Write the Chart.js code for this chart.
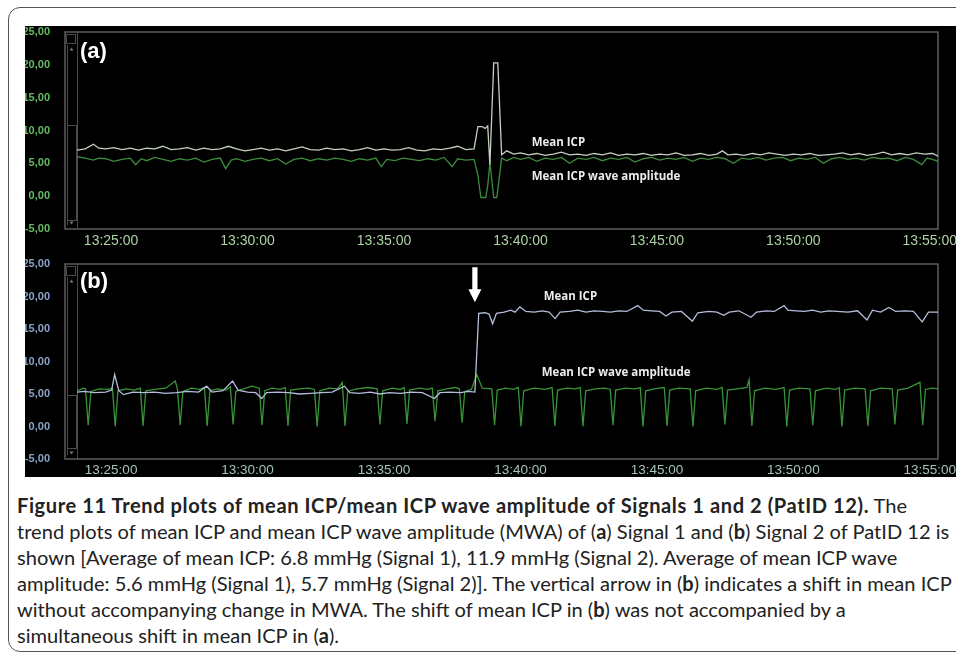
<!DOCTYPE html>
<html><head><meta charset="utf-8">
<script src="https://cdn.jsdelivr.net/npm/chart.js@4.4.0/dist/chart.umd.min.js"></script>
<style>
html,body{margin:0;padding:0;background:#fff;width:956px;height:655px;overflow:hidden;position:relative;}
#box{position:absolute;left:8px;top:7px;width:1000px;height:643px;border:1.5px solid #555;border-radius:12px;}
#blk{position:absolute;left:25px;top:26px;width:940px;height:451px;background:#000;}
canvas{position:absolute;}
.cap{position:absolute;left:17px;white-space:nowrap;font-family:Lato,"Open Sans",sans-serif;color:#222;line-height:26px;height:26px;}
.cap b{font-weight:700;}
</style></head><body>
<div id="box"></div>
<div id="blk"></div>
<canvas id="ca" width="945" height="224" style="left:25px;top:26px;"></canvas>
<canvas id="cb" width="945" height="227" style="left:25px;top:250px;"></canvas>
<div class="cap" id="titleline" style="top:492px"><b id="titlebold">Figure 11 Trend plots of mean ICP/mean ICP wave amplitude of Signals 1 and 2 (PatID 12).</b> The</div>
<div class="cap" id="refline" style="top:518px">trend plots of mean ICP and mean ICP wave amplitude (MWA) of (<b>a</b>) Signal 1 and (<b>b</b>) Signal 2 of PatID 12 is</div>
<div class="cap" style="top:544px">shown [Average of mean ICP: 6.8 mmHg (Signal 1), 11.9 mmHg (Signal 2). Average of mean ICP wave</div>
<div class="cap" style="top:570px">amplitude: 5.6 mmHg (Signal 1), 5.7 mmHg (Signal 2)]. The vertical arrow in (<b>b</b>) indicates a shift in mean ICP</div>
<div class="cap" style="top:596px">without accompanying change in MWA. The shift of mean ICP in (<b>b</b>) was not accompanied by a</div>
<div class="cap" style="top:622px">simultaneous shift in mean ICP in (<b>a</b>).</div>
<script>
// ---- tick labels (minutes after 13:25:00) ----
const xTickVals = [0, 5, 10, 15, 20, 25, 30];
const xTickLabels = ['13:25:00','13:30:00','13:35:00','13:40:00','13:45:00','13:50:00','13:55:00'];
const yTickVals = [-5, 0, 5, 10, 15, 20, 25];
const yTickLabels = ['-5,00','0,00','5,00','10,00','15,00','20,00','25,00'];

// ---- panel (a): Signal 1, [minute, mmHg] ----
const aMeanICP = [[-1.25,7.0],[-0.95,7.2],[-0.65,7.9],[-0.45,7.3],[-0.2,7.2],[0.1,7.4],[0.4,7.1],[0.7,7.3],[1.0,7.0],[1.3,7.3],[1.6,7.2],[1.9,7.6],[2.2,7.1],[2.5,7.2],[2.8,7.4],[3.1,7.0],[3.4,7.3],[3.7,7.1],[4.0,7.2],[4.3,7.6],[4.6,7.2],[4.9,6.9],[5.2,7.1],[5.5,7.3],[5.8,7.0],[6.1,7.2],[6.4,6.9],[6.7,7.2],[7.0,7.5],[7.3,7.1],[7.6,7.0],[7.9,7.3],[8.2,7.1],[8.5,7.2],[8.8,6.9],[9.1,7.1],[9.4,7.4],[9.7,7.0],[10.0,7.2],[10.3,7.0],[10.6,7.1],[10.9,7.4],[11.2,7.0],[11.5,6.9],[11.8,7.2],[12.1,7.1],[12.4,7.3],[12.7,7.6],[13.0,7.1],[13.3,7.2],[13.44,10.6],[13.6,10.6],[13.7,10.3],[13.8,10.7],[13.88,4.8],[14.02,20.3],[14.17,20.3],[14.31,6.3],[14.5,6.9],[14.75,6.4],[15.0,6.6],[15.3,6.3],[15.6,6.5],[15.9,6.2],[16.2,6.4],[16.5,6.7],[16.8,6.3],[17.1,6.4],[17.4,6.2],[17.7,6.5],[18.0,6.3],[18.3,6.6],[18.6,6.2],[18.9,6.4],[19.2,6.3],[19.5,6.5],[19.8,6.2],[20.1,6.4],[20.4,6.3],[20.7,6.6],[21.0,6.2],[21.3,6.3],[21.6,6.5],[21.9,6.2],[22.2,6.4],[22.4,6.9],[22.6,6.3],[22.9,6.4],[23.2,6.2],[23.5,6.5],[23.8,6.3],[24.1,6.6],[24.4,6.4],[24.7,6.2],[25.0,6.4],[25.3,6.3],[25.6,6.5],[25.9,6.2],[26.2,6.3],[26.5,6.4],[26.8,6.6],[27.1,6.3],[27.4,6.5],[27.7,6.2],[28.0,6.4],[28.3,6.7],[28.6,6.3],[28.9,6.5],[29.2,6.3],[29.5,6.6],[29.8,6.4],[30.1,6.5],[30.3,6.1]];
const aMWA = [[-1.25,6.0],[-0.95,5.8],[-0.65,5.5],[-0.45,5.8],[-0.2,5.7],[0.1,5.3],[0.4,5.6],[0.7,5.8],[0.9,4.8],[1.1,5.7],[1.3,5.4],[1.6,5.9],[1.9,5.6],[2.2,5.3],[2.5,5.7],[2.8,5.5],[3.1,5.8],[3.4,5.2],[3.7,5.6],[4.0,5.8],[4.2,4.2],[4.4,5.5],[4.6,5.7],[4.9,5.3],[5.2,5.6],[5.5,5.8],[5.8,5.4],[6.1,5.7],[6.4,4.9],[6.7,5.6],[7.0,5.8],[7.3,5.4],[7.6,5.7],[7.9,5.5],[8.2,5.8],[8.5,5.6],[8.8,5.3],[9.1,5.7],[9.4,5.5],[9.7,5.8],[9.9,4.5],[10.1,5.6],[10.4,5.4],[10.7,5.8],[11.0,5.6],[11.3,5.4],[11.6,5.7],[11.9,5.5],[12.2,5.9],[12.5,4.5],[12.7,5.7],[13.0,5.5],[13.3,5.6],[13.44,3.2],[13.55,-0.2],[13.73,-0.2],[13.8,1.6],[13.88,5.1],[14.02,-0.2],[14.13,-0.2],[14.17,1.0],[14.31,5.8],[14.5,5.4],[14.75,5.9],[15.0,5.6],[15.3,5.9],[15.6,5.3],[15.9,5.8],[16.2,5.6],[16.5,5.9],[16.8,5.0],[17.1,5.8],[17.4,5.6],[17.7,5.9],[18.0,5.4],[18.3,5.8],[18.6,5.6],[18.9,5.9],[19.2,5.2],[19.5,5.7],[19.8,5.9],[20.1,5.5],[20.4,5.8],[20.7,5.6],[21.0,5.9],[21.3,5.3],[21.6,5.8],[21.9,5.6],[22.2,5.9],[22.5,5.7],[22.8,5.0],[23.1,5.8],[23.4,5.6],[23.7,5.9],[24.0,5.5],[24.3,5.8],[24.6,5.9],[24.9,5.4],[25.2,5.8],[25.5,5.6],[25.8,5.9],[26.1,5.0],[26.4,5.7],[26.7,5.9],[27.0,5.6],[27.3,5.8],[27.6,5.5],[27.9,5.9],[28.2,5.7],[28.5,5.8],[28.8,5.4],[29.1,5.9],[29.4,5.6],[29.7,4.8],[29.9,5.8],[30.1,5.6],[30.3,5.3]];

// ---- panel (b): Signal 2, [minute, mmHg] ----
const bMeanICP = [[-1.25,5.3],[-1.0,5.4],[-0.6,5.2],[-0.2,5.3],[0.02,5.6],[0.13,8.0],[0.28,5.5],[0.45,4.9],[0.8,5.3],[1.2,5.2],[1.6,5.3],[2.0,5.1],[2.4,5.2],[2.8,5.4],[3.2,5.3],[3.5,6.2],[3.7,5.3],[4.1,5.5],[4.45,7.0],[4.65,5.6],[5.0,5.3],[5.3,5.2],[5.52,4.3],[5.7,5.2],[6.1,5.3],[6.5,5.2],[6.9,5.0],[7.3,5.1],[7.7,5.2],[8.1,5.3],[8.55,6.2],[8.75,5.2],[9.1,5.1],[9.5,5.3],[9.85,5.0],[10.2,5.2],[10.6,5.1],[11.0,5.3],[11.4,5.2],[11.85,4.3],[12.05,5.2],[12.4,5.3],[12.8,5.2],[13.1,5.4],[13.33,5.3],[13.47,17.4],[13.7,17.5],[13.85,17.3],[13.98,15.8],[14.12,17.4],[14.4,17.6],[14.65,17.9],[14.8,17.6],[14.98,18.4],[15.2,17.7],[15.5,17.6],[15.8,17.8],[16.05,17.6],[16.27,16.6],[16.45,17.6],[16.8,17.7],[17.1,17.9],[17.4,17.6],[17.7,17.8],[18.0,17.7],[18.3,17.6],[18.6,17.8],[18.9,17.7],[19.3,18.6],[19.5,17.9],[19.8,17.8],[20.1,17.7],[20.33,17.0],[20.55,17.6],[20.9,17.7],[21.3,16.2],[21.5,17.5],[21.9,17.7],[22.2,17.6],[22.45,17.1],[22.65,17.6],[23.0,17.8],[23.45,16.8],[23.65,17.6],[24.0,17.8],[24.3,17.7],[24.66,18.6],[24.8,17.9],[25.1,17.8],[25.4,17.7],[25.7,17.9],[26.0,17.6],[26.3,17.8],[26.6,17.7],[27.0,17.6],[27.35,17.8],[27.7,16.4],[27.9,17.9],[28.2,17.6],[28.5,18.3],[28.75,17.7],[29.1,17.8],[29.4,17.7],[29.72,16.1],[29.95,17.6],[30.3,17.6]];
const bMWA = [[-1.25,5.5],[-1.0,5.9],[-0.94,5.8],[-0.84,0.2],[-0.74,5.4],[-0.45,5.8],[-0.1,5.7],[0.05,5.9],[0.15,0.0],[0.25,5.5],[0.55,5.8],[0.85,5.6],[1.07,5.9],[1.17,0.1],[1.27,5.5],[1.6,5.7],[2.0,5.9],[2.35,7.0],[2.43,5.8],[2.53,0.2],[2.63,5.4],[2.95,5.9],[3.25,5.7],[3.42,6.0],[3.52,0.1],[3.62,5.5],[3.9,5.8],[4.2,5.6],[4.37,6.1],[4.47,0.3],[4.57,5.4],[4.85,5.8],[5.15,6.2],[5.43,5.9],[5.53,0.2],[5.63,5.5],[5.9,5.9],[6.2,5.7],[6.38,6.0],[6.48,0.1],[6.58,5.6],[6.9,5.8],[7.25,5.9],[7.45,5.7],[7.55,0.0],[7.65,5.5],[8.0,5.9],[8.3,5.8],[8.47,6.8],[8.57,0.1],[8.67,5.4],[9.0,5.8],[9.4,6.0],[9.75,5.8],[9.85,0.3],[9.95,5.5],[10.3,5.9],[10.6,5.7],[10.74,6.0],[10.84,0.4],[10.94,5.6],[11.3,5.9],[11.6,5.7],[11.77,5.9],[11.87,0.8],[11.97,5.5],[12.3,5.8],[12.6,6.0],[12.76,5.8],[12.86,0.6],[12.96,5.4],[13.2,5.7],[13.4,8.0],[13.6,5.9],[13.95,5.8],[14.05,0.2],[14.15,5.6],[14.45,5.9],[14.75,5.7],[14.92,6.0],[15.02,0.0],[15.12,5.5],[15.5,5.9],[15.9,5.7],[16.16,6.0],[16.26,0.1],[16.36,5.6],[16.7,5.9],[17.0,5.8],[17.19,6.0],[17.29,0.0],[17.39,5.5],[17.75,5.8],[18.1,5.9],[18.29,5.7],[18.39,0.2],[18.49,5.6],[18.85,5.9],[19.2,5.8],[19.39,6.0],[19.49,0.0],[19.59,5.5],[19.9,5.8],[20.27,6.0],[20.37,0.1],[20.47,5.6],[20.8,5.9],[21.22,5.8],[21.32,0.0],[21.42,5.5],[21.8,5.9],[22.2,5.7],[22.39,6.0],[22.49,0.3],[22.59,5.6],[22.95,5.8],[23.3,6.0],[23.38,7.2],[23.48,0.1],[23.58,5.5],[23.95,5.9],[24.35,5.7],[24.66,6.0],[24.76,0.0],[24.86,5.6],[25.2,5.9],[25.61,5.8],[25.71,0.2],[25.81,5.5],[26.2,5.9],[26.55,5.7],[26.68,6.0],[26.78,0.0],[26.88,5.6],[27.25,5.9],[27.63,5.8],[27.73,0.1],[27.83,5.5],[28.2,5.9],[28.62,5.8],[28.72,0.3],[28.82,5.6],[29.2,5.9],[29.64,6.8],[29.74,0.2],[29.84,5.7],[30.1,5.9],[30.3,5.8]];

// ---- annotation anchors (data coordinates) ----
const aNotes = [{t:15.41, v:8.15, text:'Mean ICP'},{t:15.41, v:2.95, text:'Mean ICP wave amplitude'}];
const bNotes = [{t:15.85, v:19.9, text:'Mean ICP'},{t:15.78, v:8.2, text:'Mean ICP wave amplitude'}];
const bArrow = {t:13.33, from:24.5, to:19.1};

const toXY = arr => arr.map(p => ({x:p[0], y:p[1]}));

const decor = {
  id:'decor',
  beforeDatasetsDraw(chart, args, o){
    const {ctx, chartArea:a} = chart;
    ctx.save();
    ctx.strokeStyle = '#5c5c5c'; ctx.lineWidth = 1.5;
    ctx.strokeRect(a.left-12, a.top, a.right-a.left+12, a.bottom-a.top);
    ctx.lineWidth = 1; ctx.strokeStyle = '#4a4a4a';
    ctx.beginPath(); ctx.moveTo(a.left+0.5, a.top); ctx.lineTo(a.left+0.5, a.bottom); ctx.stroke();
    ctx.beginPath(); ctx.moveTo(a.left-9.5, a.top+13); ctx.lineTo(a.left-9.5, a.bottom-4); ctx.stroke();
    ctx.strokeRect(a.left-10.5, a.top+2.5, 9, 9);
    ctx.strokeRect(a.left-9.5, a.top+o.thumbTop+0.5, 9, o.thumbH);
    ctx.fillStyle = '#777';
    let cx = a.left-5.5, cy = a.top+17;
    ctx.beginPath(); ctx.moveTo(cx-2, cy+1.5); ctx.lineTo(cx+2, cy+1.5); ctx.lineTo(cx, cy-1.5); ctx.fill();
    cy = a.bottom-6;
    ctx.beginPath(); ctx.moveTo(cx-2, cy-1.5); ctx.lineTo(cx+2, cy-1.5); ctx.lineTo(cx, cy+1.5); ctx.fill();
    ctx.restore();
  },
  afterDatasetsDraw(chart, args, o){
    const {ctx, chartArea:a, scales:{x, y}} = chart;
    ctx.save();
    ctx.fillStyle = '#fff';
    ctx.font = 'bold 22px "Liberation Sans", Arial, sans-serif';
    ctx.textBaseline = 'middle'; ctx.textAlign = 'left';
    ctx.fillText(o.label, a.left+3, a.top+o.labelDy);
    ctx.fillStyle = '#ececec';
    ctx.font = 'bold 11.5px "Open Sans", sans-serif';
    o.notes.forEach(n => ctx.fillText(n.text, x.getPixelForValue(n.t), y.getPixelForValue(n.v)));
    if (o.arrow) {
      const ax = x.getPixelForValue(o.arrow.t), y1 = y.getPixelForValue(o.arrow.from), y2 = y.getPixelForValue(o.arrow.to);
      const hl = 13, hw = 6.5, sw = 2.6;
      ctx.fillStyle = '#fff';
      ctx.beginPath();
      ctx.moveTo(ax-sw, y1); ctx.lineTo(ax+sw, y1); ctx.lineTo(ax+sw, y2-hl); ctx.lineTo(ax+hw, y2-hl);
      ctx.lineTo(ax, y2); ctx.lineTo(ax-hw, y2-hl); ctx.lineTo(ax-sw, y2-hl); ctx.closePath(); ctx.fill();
    }
    ctx.restore();
  }
};

function makeChart(id, icp, mwa, cfg){
  return new Chart(document.getElementById(id), {
    type:'line',
    data:{datasets:[
      {data:toXY(icp), borderColor:cfg.icpColor, borderWidth:1.3, pointRadius:0, tension:0},
      {data:toXY(mwa), borderColor:cfg.mwaColor, borderWidth:1.3, pointRadius:0, tension:0}
    ]},
    plugins:[decor],
    options:{
      responsive:false, animation:false, devicePixelRatio:1,
      layout:{padding:{left:0, right:32, top:cfg.padTop, bottom:0}},
      plugins:{legend:{display:false}, tooltip:{enabled:false}, decor:cfg.decor},
      scales:{
        x:{type:'linear', min:-1.25, max:30.3,
           afterBuildTicks:s => { s.ticks = xTickVals.map(v => ({value:v})); },
           afterFit:s => { s.height = cfg.xH; },
           grid:{display:false, drawTicks:false}, border:{display:false},
           ticks:{autoSkip:false, maxRotation:0, padding:cfg.xPad, color:cfg.xColor,
                  font:{family:'"Liberation Sans", Arial, sans-serif', size:cfg.xSize},
                  callback:v => xTickLabels[xTickVals.indexOf(v)]}},
        y:{min:-5, max:25,
           afterBuildTicks:s => { s.ticks = yTickVals.map(v => ({value:v})); },
           afterFit:s => { s.width = 52; s.paddingTop = 0; s.paddingBottom = 0; },
           grid:{display:false, drawTicks:true, tickLength:27}, border:{display:false},
           ticks:{padding:0, color:cfg.yColor,
                  font:{family:'"Liberation Sans", Arial, sans-serif', size:11, weight:'bold'},
                  callback:v => yTickLabels[yTickVals.indexOf(v)]}}
      }
    }
  });
}

makeChart('ca', aMeanICP, aMWA, {icpColor:'#c2d0be', mwaColor:'#3d8c3d', padTop:6, xH:21, xPad:4, xSize:14,
  xColor:'#acd3a4', yColor:'#62bb62',
  decor:{label:'(a)', labelDy:20, thumbTop:93, thumbH:95, notes:aNotes}});
makeChart('cb', bMeanICP, bMWA, {icpColor:'#b4bedc', mwaColor:'#379537', padTop:14, xH:18, xPad:3, xSize:13.5,
  xColor:'#a4c2bc', yColor:'#88a4c8',
  decor:{label:'(b)', labelDy:18, thumbTop:131, thumbH:53, notes:bNotes, arrow:bArrow}});

// fit caption font so the second line spans the same width as the reference,
// then widen the bold title so the first line ends where it does in the reference
(function(){
  const caps = document.querySelectorAll('.cap');
  caps.forEach(c => c.style.fontSize = '17px');
  const w = document.getElementById('refline').getBoundingClientRect().width;
  const fs = 17 * 933 / w;
  caps.forEach(c => c.style.fontSize = fs.toFixed(2) + 'px');
  const tb = document.getElementById('titlebold');
  const t1 = document.getElementById('titleline').getBoundingClientRect().width;
  const n = tb.textContent.length;
  const extra = (890 - t1) / n;
  if (extra > 0) tb.style.letterSpacing = extra.toFixed(3) + 'px';
})();
</script>
</body></html>
